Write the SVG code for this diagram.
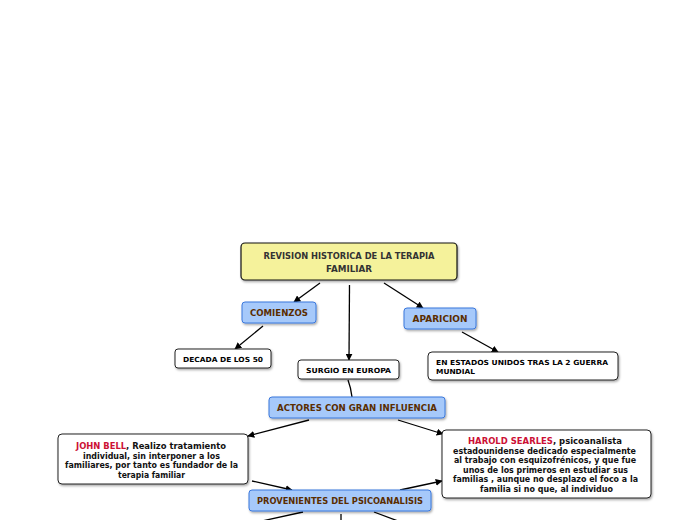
<svg xmlns="http://www.w3.org/2000/svg" width="696" height="520" viewBox="0 0 696 520">
<defs>
<filter id="sh" x="-10%" y="-10%" width="130%" height="140%">
<feDropShadow dx="1" dy="1.5" stdDeviation="1" flood-color="#000" flood-opacity="0.35"/>
</filter>
<marker id="ar" viewBox="0 0 10 10" refX="9" refY="5" markerWidth="7" markerHeight="7" orient="auto" markerUnits="userSpaceOnUse">
<path d="M0,0 L10,5 L0,10 z" fill="#000"/>
</marker>
</defs>
<style>
text{font-family:"DejaVu Sans","Verdana",sans-serif;font-weight:bold}
.title{fill:#f5f29b;stroke:#111;stroke-width:1.2}
.blue{fill:#a6c9fa;stroke:#3a78dc;stroke-width:1}
.white{fill:#fff;stroke:#222;stroke-width:1}
.tt{font-size:9px;fill:#333}
.bt{font-size:8px;fill:#5a2d00}
.wt{font-size:7px;fill:#000}
.lt{font-size:8px;fill:#111}
.red{fill:#cc1035}
.c line,.c path{stroke:#000;stroke-width:1.3;fill:none}
</style>
<rect width="696" height="520" fill="#fff"/>
<g class="c" id="connectors">
<line x1="320" y1="283" x2="294" y2="302" marker-end="url(#ar)"/>
<line x1="349.5" y1="285" x2="349" y2="360" marker-end="url(#ar)"/>
<line x1="384" y1="283" x2="423" y2="308" marker-end="url(#ar)"/>
<line x1="263" y1="326" x2="235" y2="349" marker-end="url(#ar)"/>
<line x1="462" y1="332" x2="498" y2="352" marker-end="url(#ar)"/>
<path d="M348,380 Q351,388 352,397"/>
<line x1="309" y1="420" x2="248" y2="436" marker-end="url(#ar)"/>
<line x1="398" y1="420" x2="443" y2="434" marker-end="url(#ar)"/>
<line x1="252" y1="481" x2="292" y2="490" marker-end="url(#ar)"/>
<line x1="400" y1="490" x2="442" y2="481" marker-end="url(#ar)"/>
<line x1="303" y1="512" x2="262" y2="521"/>
<line x1="341" y1="514" x2="341" y2="521"/>
<line x1="374" y1="512" x2="398" y2="521"/>
</g>
<g id="n-title">
<rect class="title" x="241" y="243" width="216" height="37" rx="4" filter="url(#sh)"/>
<text class="tt" x="349" y="259" text-anchor="middle" textLength="171" lengthAdjust="spacingAndGlyphs">REVISION HISTORICA DE LA TERAPIA</text>
<text class="tt" x="349" y="272" text-anchor="middle" textLength="46" lengthAdjust="spacingAndGlyphs">FAMILIAR</text>
</g>
<g id="n-comienzos">
<rect class="blue" x="242" y="302" width="74" height="21" rx="3" filter="url(#sh)"/>
<text class="bt" x="279" y="316" text-anchor="middle" textLength="58" lengthAdjust="spacingAndGlyphs">COMIENZOS</text>
</g>
<g id="n-aparicion">
<rect class="blue" x="404" y="308" width="72" height="21" rx="3" filter="url(#sh)"/>
<text class="bt" x="440" y="322" text-anchor="middle" textLength="55" lengthAdjust="spacingAndGlyphs">APARICION</text>
</g>
<g id="n-decada">
<rect class="white" x="175" y="349" width="96" height="19" rx="3" filter="url(#sh)"/>
<text class="wt" x="223" y="361.5" text-anchor="middle" textLength="80" lengthAdjust="spacingAndGlyphs">DECADA DE LOS 50</text>
</g>
<g id="n-surgio">
<rect class="white" x="298" y="360" width="101" height="19" rx="3" filter="url(#sh)"/>
<text class="wt" x="348.5" y="372.5" text-anchor="middle" textLength="85" lengthAdjust="spacingAndGlyphs">SURGIO EN EUROPA</text>
</g>
<g id="n-eeuu">
<rect class="white" x="428" y="352" width="190" height="28" rx="4" filter="url(#sh)"/>
<text class="wt" x="436" y="365" textLength="172" lengthAdjust="spacingAndGlyphs">EN ESTADOS UNIDOS TRAS LA 2 GUERRA</text>
<text class="wt" x="436" y="374" textLength="39" lengthAdjust="spacingAndGlyphs">MUNDIAL</text>
</g>
<g id="n-actores">
<rect class="blue" x="269" y="397" width="176" height="21" rx="3" filter="url(#sh)"/>
<text class="bt" x="357" y="411" text-anchor="middle" textLength="160" lengthAdjust="spacingAndGlyphs">ACTORES CON GRAN INFLUENCIA</text>
</g>
<g id="n-johnbell">
<rect class="white" x="58" y="434" width="190" height="50" rx="4" filter="url(#sh)"/>
<text class="lt" x="151" y="449" text-anchor="middle" textLength="150" lengthAdjust="spacingAndGlyphs"><tspan class="red">JOHN BELL</tspan>, Realizo tratamiento</text>
<text class="lt" x="151.5" y="459" text-anchor="middle" textLength="137" lengthAdjust="spacingAndGlyphs">individual, sin interponer a los</text>
<text class="lt" x="151.5" y="468" text-anchor="middle" textLength="173" lengthAdjust="spacingAndGlyphs">familiares, por tanto es fundador de la</text>
<text class="lt" x="151.5" y="478" text-anchor="middle" textLength="67" lengthAdjust="spacingAndGlyphs">terapia familiar</text>
</g>
<g id="n-harold">
<rect class="white" x="442" y="430" width="209" height="68" rx="4" filter="url(#sh)"/>
<text class="lt" x="545" y="444" text-anchor="middle" textLength="154" lengthAdjust="spacingAndGlyphs"><tspan class="red">HAROLD SEARLES</tspan>, psicoanalista</text>
<text class="lt" x="544.5" y="454" text-anchor="middle" textLength="183" lengthAdjust="spacingAndGlyphs">estadounidense dedicado especialmente</text>
<text class="lt" x="545" y="463" text-anchor="middle" textLength="182" lengthAdjust="spacingAndGlyphs">al trabajo con esquizofrénicos, y que fue</text>
<text class="lt" x="545.5" y="473" text-anchor="middle" textLength="165" lengthAdjust="spacingAndGlyphs">unos de los primeros en estudiar sus</text>
<text class="lt" x="545.5" y="482" text-anchor="middle" textLength="185" lengthAdjust="spacingAndGlyphs">familias , aunque no desplazo el foco a la</text>
<text class="lt" x="546.5" y="492" text-anchor="middle" textLength="133" lengthAdjust="spacingAndGlyphs">familia si no que, al individuo</text>
</g>
<g id="n-provenientes">
<rect class="blue" x="249" y="490" width="182" height="21" rx="3" filter="url(#sh)"/>
<text class="bt" x="340" y="504" text-anchor="middle" textLength="166" lengthAdjust="spacingAndGlyphs">PROVENIENTES DEL PSICOANALISIS</text>
</g>
</svg>
